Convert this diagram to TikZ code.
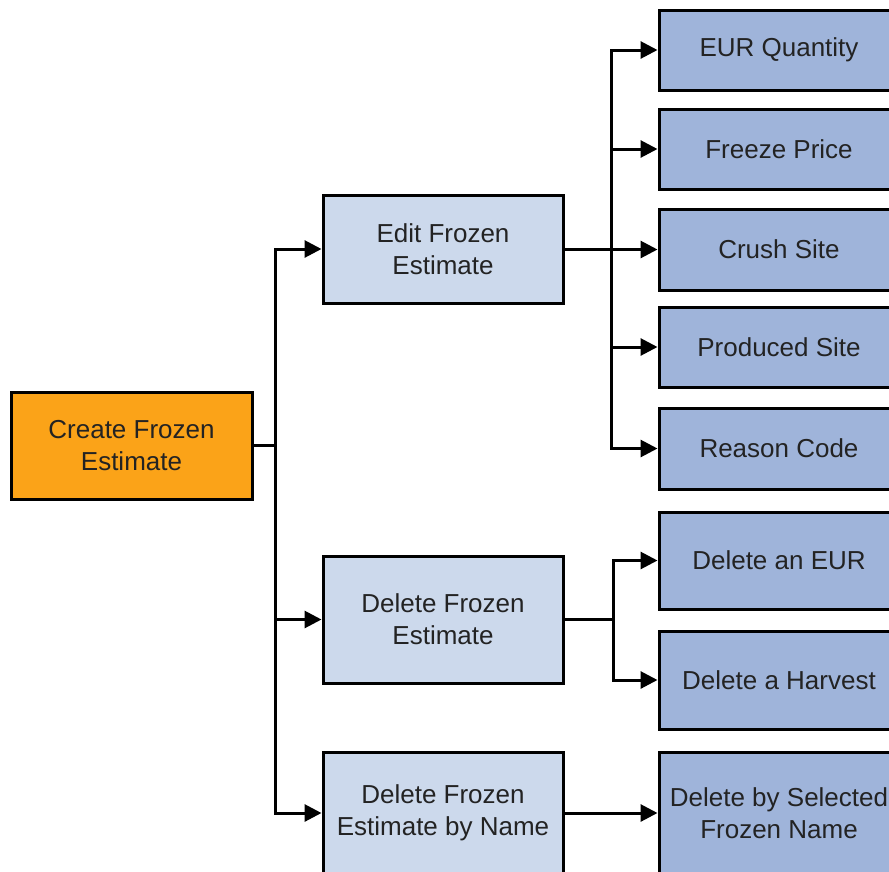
\documentclass[tikz,border=0pt]{standalone}
\usepackage{fontspec}
\setmainfont{Liberation Sans}
\usetikzlibrary{arrows.meta}
\definecolor{rootfill}{RGB}{251,163,24}
\definecolor{midfill}{RGB}{204,217,236}
\definecolor{leaffill}{RGB}{159,180,218}
\definecolor{txt}{RGB}{35,35,35}
\tikzset{
  box/.style={draw=black, line width=3pt, rectangle, align=center, text=txt,
    font=\fontsize{26}{32}\selectfont, inner sep=0pt},
  rootbox/.style={box, fill=rootfill, minimum width=241pt, minimum height=107pt},
  midbox/.style={box, fill=midfill, minimum width=240pt},
  leafbox/.style={box, fill=leaffill, minimum width=240pt},
  conn/.style={draw=black, line width=3pt},
  arr/.style={conn, -{Triangle[length=17pt,width=17pt]}},
}
\begin{document}
\begin{tikzpicture}[x=1pt,y=-1pt]
\useasboundingbox (0,0) rectangle (889,871);
\clip (0,0) rectangle (889,871);
\fill[white] (0,0) rectangle (889,871);

\node[rootbox] (root) at (131.5,445.5) {Create Frozen\\Estimate};

\node[midbox, minimum height=108pt] (edit) at (443,249) {Edit Frozen\\Estimate};
\node[midbox, minimum height=127pt] (delfe) at (443,619.5) {Delete Frozen\\Estimate};
\node[midbox, minimum height=122pt] (delname) at (443,813) {Delete Frozen\\Estimate by Name};

\node[leafbox, minimum height=80pt] (eur) at (779,50) {EUR Quantity};
\node[leafbox, minimum height=80pt] (freeze) at (779,149) {Freeze Price};
\node[leafbox, minimum height=81pt] (crush) at (779,249.5) {Crush Site};
\node[leafbox, minimum height=80pt] (produced) at (779,347) {Produced Site};
\node[leafbox, minimum height=81pt] (reason) at (779,448.5) {Reason Code};
\node[leafbox, minimum height=97pt] (deleur) at (779,560.5) {Delete an EUR};
\node[leafbox, minimum height=98pt] (delharv) at (779,680) {Delete a Harvest};
\node[leafbox, minimum height=122pt] (delsel) at (779,813) {Delete by Selected\\Frozen Name};

\coordinate (j1) at (275,445.5);
\coordinate (j2) at (611,249);
\coordinate (j3) at (613,619.5);

\draw[conn] (root.east) -- (j1);
\draw[arr] (j1) |- (edit.west);
\draw[arr] (j1) |- (delfe.west);
\draw[arr] (j1) |- (delname.west);

\draw[conn] (edit.east) -- (j2);
\draw[arr] (j2) |- (eur.west);
\draw[arr] (j2) |- (freeze.west);
\draw[arr] (j2) |- (crush.west);
\draw[arr] (j2) |- (produced.west);
\draw[arr] (j2) |- (reason.west);

\draw[conn] (delfe.east) -- (j3);
\draw[arr] (j3) |- (deleur.west);
\draw[arr] (j3) |- (delharv.west);

\draw[arr] (delname.east) -- (delsel.west);
\end{tikzpicture}
\end{document}
